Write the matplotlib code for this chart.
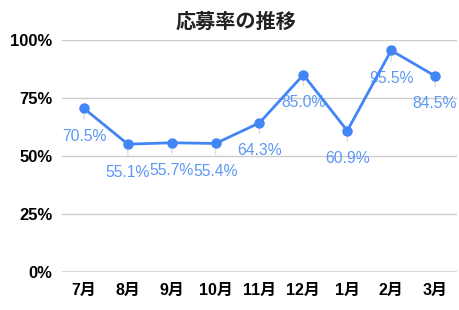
import matplotlib
matplotlib.use("Agg")
import matplotlib.pyplot as plt
from matplotlib.ticker import FixedLocator

plt.rcParams['font.family'] = ['Liberation Sans', 'Noto Sans CJK JP', 'DejaVu Sans']

months = ["7月", "8月", "9月", "10月", "11月", "12月", "1月", "2月", "3月"]
rates = [70.5, 55.1, 55.7, 55.4, 64.3, 85.0, 60.9, 95.5, 84.5]
yticks = [0, 25, 50, 75, 100]
ytick_labels = ["0%", "25%", "50%", "75%", "100%"]
title = "応募率の推移"

fig = plt.figure(figsize=(4.6, 3.1), dpi=100)
ax = fig.add_axes([62/460, 1-272/310, 395/460, 232/310])

x = list(range(len(months)))
ax.plot(x, rates, color='#4285f4', lw=2, marker='o', markersize=6.5, zorder=3)

for xi, v in zip(x, rates):
    ax.annotate(f"{v:.1f}%", xy=(xi, v), xytext=(0, -28), textcoords='offset pixels',
                ha='center', va='center', fontsize=11.3, color='#5e97f6',
                arrowprops=dict(arrowstyle='-', color='#dddddd', lw=1,
                                shrinkA=5, shrinkB=0), zorder=2)

ax.set_xlim(-0.5, len(months) - 0.5)
ax.set_ylim(0, 100)
ax.yaxis.set_major_locator(FixedLocator(yticks))
ax.set_yticklabels(ytick_labels, fontsize=12, fontweight='bold')
ax.set_xticks(x)
ax.set_xticklabels(months, fontsize=11.5, fontweight='bold')
ax.tick_params(axis='both', length=0)
ax.tick_params(axis='y', pad=7)
ax.tick_params(axis='x', pad=8)
for s in ['top', 'right', 'left', 'bottom']:
    ax.spines[s].set_visible(False)
for t in yticks[1:]:
    ax.axhline(t, color='#cccccc', lw=1, zorder=0)
ax.axhline(0, color='#333333', lw=1, zorder=1)

fig.text(236/460, 1-22/310, title, ha='center', va='center', fontsize=14.5,
         fontweight='bold', color='#222222')

fig.savefig("out.png", dpi=100, facecolor='white')
